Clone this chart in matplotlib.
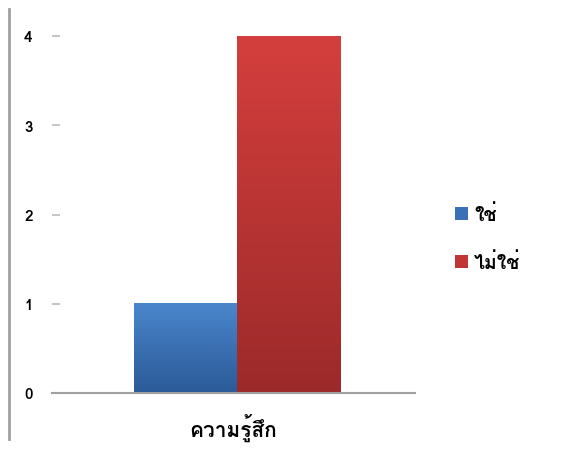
import matplotlib
matplotlib.use("Agg")
import matplotlib.pyplot as plt
import numpy as np
from matplotlib.lines import Line2D
from matplotlib.patches import Rectangle

plt.rcParams['font.family'] = ['Loma', 'Noto Sans Thai', 'DejaVu Sans']

category = ["ความรู้สึก"]
series_names = ["ใช่", "ไม่ใช่"]
series_values = [1, 4]
y_ticks = [0, 1, 2, 3, 4]

colors_top = ["#4a86cc", "#d43f3d"]
colors_bot = ["#2b5a98", "#9c2a2a"]

W, H = 573, 452
fig = plt.figure(figsize=(W / 100, H / 100), dpi=100)
ax = fig.add_axes([52 / W, 1 - 394 / H, (415 - 52) / W, (394 - 37) / H])
ax.set_xlim(0, 1)
ax.set_ylim(0, 4)

bar_w = 0.285
x0 = 0.5 - bar_w
for i, (name, v) in enumerate(zip(series_names, series_values)):
    left = x0 + i * bar_w + 0.01
    grad = np.linspace(0, 1, 256).reshape(-1, 1)
    c1 = np.array(matplotlib.colors.to_rgb(colors_bot[i]))
    c2 = np.array(matplotlib.colors.to_rgb(colors_top[i]))
    img = c1[None, None, :] * (1 - grad[..., None]) + c2[None, None, :] * grad[..., None]
    ax.imshow(img, extent=[left, left + bar_w, 0, v], origin='lower',
              aspect='auto', zorder=2, interpolation='bilinear')
    ax.add_patch(Rectangle((left, 0), bar_w, v, facecolor='none', edgecolor='none', label=name))

ax.set_xlim(0, 1)
ax.set_ylim(0, 4)
for s in ['top', 'right', 'left']:
    ax.spines[s].set_visible(False)
ax.spines['bottom'].set_color('#a0a0a0')
ax.spines['bottom'].set_linewidth(1.5)
ax.set_xticks([0.5])
ax.set_xticklabels(category, fontsize=15, fontweight='bold')
ax.tick_params(axis='x', length=0, pad=14)
ax.set_yticks(y_ticks)
ax.set_yticklabels([str(t) for t in y_ticks], fontsize=11, fontweight='bold')
ax.tick_params(axis='y', length=6, width=1.5, color='#c8c8c8', direction='in', pad=14)

handles = [Rectangle((0, 0), 1, 1, facecolor=c) for c in ["#3a70b8", "#c03635"]]
leg = fig.legend(handles, series_names, loc='upper left',
                 bbox_to_anchor=(437 / W, 1 - 188 / H), frameon=False,
                 prop={'size': 14, 'weight': 'bold'}, handlelength=0.7, handleheight=0.7,
                 handletextpad=0.3, labelspacing=1.45)

fig.add_artist(Line2D([9 / W, 9 / W], [1 - 10 / H, 1 - 440 / H],
                      color='#a0a0a0', lw=2, transform=fig.transFigure))

fig.savefig("out.png", dpi=100)
